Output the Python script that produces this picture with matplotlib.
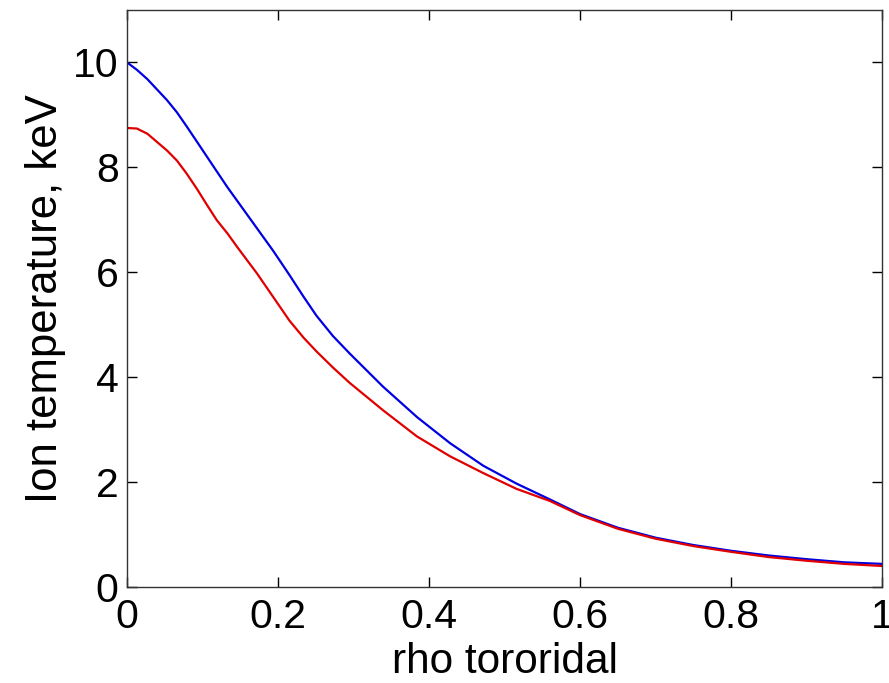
import matplotlib.pyplot as plt

# rho toroidal grid and ion temperature profiles (keV)
rho = [0.0, 0.013, 0.027, 0.04, 0.053, 0.066, 0.079, 0.093, 0.106, 0.119,
       0.133, 0.146, 0.16, 0.172, 0.194, 0.215, 0.234, 0.251, 0.273, 0.295,
       0.339, 0.384, 0.428, 0.472, 0.516, 0.56, 0.6, 0.65, 0.7, 0.75,
       0.8, 0.85, 0.9, 0.95, 1.0]
ti_blue = [10.0, 9.86, 9.68, 9.48, 9.28, 9.05, 8.78, 8.48, 8.2, 7.92,
           7.62, 7.36, 7.08, 6.84, 6.40, 5.95, 5.53, 5.17, 4.78, 4.45,
           3.82, 3.24, 2.74, 2.31, 1.97, 1.67, 1.39, 1.13, 0.94, 0.80,
           0.69, 0.60, 0.53, 0.47, 0.44]
ti_red = [8.75, 8.74, 8.64, 8.48, 8.32, 8.13, 7.88, 7.58, 7.28, 6.99,
          6.74, 6.48, 6.21, 5.98, 5.52, 5.08, 4.75, 4.49, 4.18, 3.89,
          3.37, 2.87, 2.49, 2.17, 1.87, 1.64, 1.37, 1.11, 0.92, 0.78,
          0.67, 0.57, 0.50, 0.44, 0.40]

xticks = [0, 0.2, 0.4, 0.6, 0.8, 1]
xticklabels = ['0', '0.2', '0.4', '0.6', '0.8', '1']
yticks = [0, 2, 4, 6, 8, 10]

plt.rcParams['font.family'] = ['Liberation Sans', 'DejaVu Sans']

fig = plt.figure(figsize=(8.89, 6.83), dpi=100)
ax = fig.add_axes([0.1429, 0.1406, 0.8492, 0.8448])

ax.plot(rho, ti_blue, color='#0000e0', lw=1.6)
ax.plot(rho, ti_red, color='#e00000', lw=1.6)

ax.set_xlim(0, 1)
ax.set_ylim(0, 11)
ax.set_xticks(xticks, labels=xticklabels)
ax.set_yticks(yticks)
ax.tick_params(direction='in', length=7, width=1, top=True, right=True,
               labelsize=29.5)
ax.tick_params(axis='x', pad=8)
ax.tick_params(axis='y', pad=6)
for s in ax.spines.values():
    s.set_linewidth(1)
    s.set_color('#333333')

ax.set_xlabel('rho tororidal', fontsize=30.5, labelpad=4)
ax.set_ylabel('Ion temperature, keV', fontsize=31.5, labelpad=5)

fig.savefig('out.png', dpi=100)
